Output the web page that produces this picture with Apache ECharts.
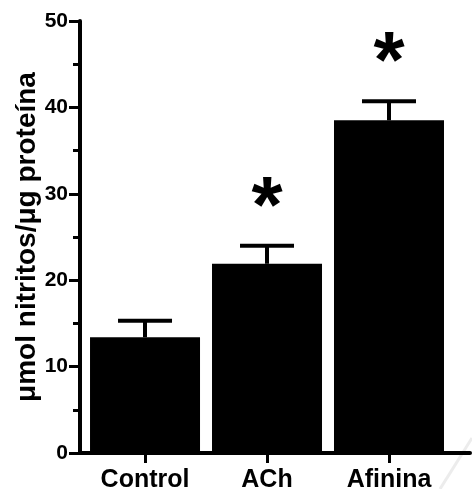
<!DOCTYPE html>
<html>
<head>
<meta charset="utf-8">
<script src="https://cdn.jsdelivr.net/npm/echarts@6/dist/echarts.min.js"></script>
<style>
  html, body { margin: 0; padding: 0; background: #fff; }
  #chart { width: 472px; height: 489px; }
</style>
</head>
<body>
<div id="chart"></div>
<script>
// Nitrite content per group (mean and upper SEM), with significance marks
const categories = ['Control', 'ACh', 'Afinina'];
const means = [13.4, 21.9, 38.5];
const errors = [1.9, 2.1, 2.2];
const marks = ['', '*', '*'];
const yTicks = [0, 10, 20, 30, 40, 50];

const FONT = '"Liberation Sans", Arial, sans-serif';
const idx = categories.map((_, i) => i);

const chart = echarts.init(document.getElementById('chart'), null, { renderer: 'canvas' });

chart.setOption({
  backgroundColor: '#fff',
  animation: false,
  grid: { left: 80, right: 2, top: 21, bottom: 36, outerBoundsMode: 'none', containLabel: false },
  xAxis: {
    type: 'value',
    min: -0.533,
    max: 2.664,
    splitLine: { show: false },
    axisLine: { show: true, onZero: false, lineStyle: { color: '#000', width: 4 } },
    axisTick: {
      show: true, customValues: idx, length: 10, inside: false,
      lineStyle: { color: '#000', width: 3 }
    },
    axisLabel: {
      customValues: idx,
      formatter: v => categories[Math.round(v)],
      color: '#000', fontFamily: FONT, fontWeight: 'bold', fontSize: 25, margin: 15
    }
  },
  yAxis: {
    type: 'value',
    min: yTicks[0],
    max: yTicks[yTicks.length - 1],
    interval: 10,
    name: 'μmol nitritos/μg proteína',
    nameLocation: 'middle',
    nameGap: 39,
    nameMoveOverlap: false,
    nameTextStyle: { color: '#000', fontFamily: FONT, fontWeight: 'bold', fontSize: 28 },
    splitLine: { show: false },
    axisLine: { show: true, onZero: false, lineStyle: { color: '#000', width: 4 } },
    axisTick: { show: true, length: 11, lineStyle: { color: '#000', width: 3 } },
    minorTick: { show: true, splitNumber: 2, length: 7, lineStyle: { color: '#000', width: 3 } },
    axisLabel: { color: '#000', fontFamily: FONT, fontWeight: 'bold', fontSize: 21, margin: 12 }
  },
  series: [
    {
      type: 'bar',
      data: means.map((m, i) => [i, m]),
      barWidth: 110,
      itemStyle: { color: '#000' },
      z: 2
    },
    {
      type: 'custom',
      data: means.map((m, i) => [i, m, m + errors[i]]),
      z: 3,
      renderItem: function (params, api) {
        const i = api.value(0);
        const base = api.coord([i, api.value(1)]);
        const top = api.coord([i, api.value(2)]);
        const capHalf = 27;
        const children = [
          { type: 'line', shape: { x1: top[0], y1: base[1], x2: top[0], y2: top[1] },
            style: { stroke: '#000', lineWidth: 4 } },
          { type: 'line', shape: { x1: top[0] - capHalf, y1: top[1], x2: top[0] + capHalf, y2: top[1] },
            style: { stroke: '#000', lineWidth: 4 } }
        ];
        const mark = marks[params.dataIndex];
        if (mark) {
          children.push({
            type: 'text',
            style: {
              text: mark, x: top[0], y: top[1] - 36,
              align: 'center', verticalAlign: 'middle',
              fill: '#000', font: 'bold 80px ' + FONT
            }
          });
        }
        return { type: 'group', children: children };
      }
    }
  ],
  graphic: [
    { type: 'line', shape: { x1: 472, y1: 438, x2: 440, y2: 489 },
      style: { stroke: '#ececec', lineWidth: 3 }, silent: true }
  ]
});
</script>
</body>
</html>
